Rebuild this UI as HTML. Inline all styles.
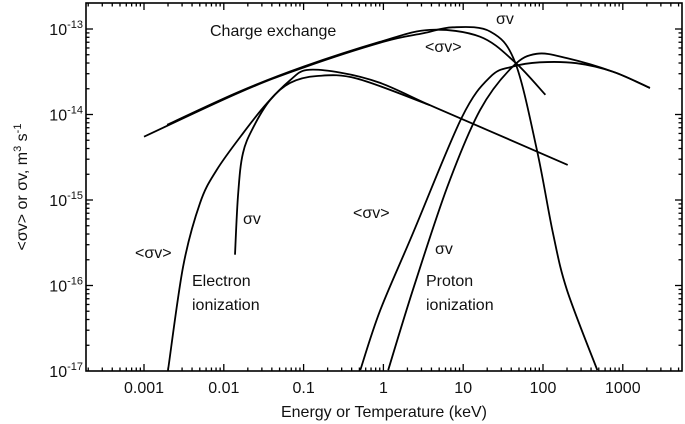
<!DOCTYPE html>
<html><head><meta charset="utf-8"><style>
html,body{margin:0;padding:0;background:#fff;}
svg{display:block;font-family:"Liberation Sans",sans-serif;}
</style></head><body>
<svg id="c" width="685" height="424" viewBox="0 0 685 424">
<rect x="86" y="3" width="596" height="368" fill="none" stroke="#000" stroke-width="1.6"/>
<g id="ticks"></g>
<g id="curves"></g>
<g font-size="16" fill="#111">
<text x="210" y="36">Charge exchange</text>
<text x="496" y="24">σv</text>
<text x="425" y="52">&lt;σv&gt;</text>
<text x="243" y="224">σv</text>
<text x="135" y="258">&lt;σv&gt;</text>
<text x="192" y="286">Electron</text>
<text x="192" y="310">ionization</text>
<text x="353" y="218">&lt;σv&gt;</text>
<text x="435" y="254">σv</text>
<text x="426" y="286">Proton</text>
<text x="426" y="310">ionization</text>
<text x="384" y="417" text-anchor="middle">Energy or Temperature (keV)</text>
<text transform="translate(27,187) rotate(-90)" text-anchor="middle">&lt;σv&gt; or σv, m<tspan font-size="11" dy="-6">3</tspan><tspan dy="6"> s</tspan><tspan font-size="11" dy="-6">-1</tspan></text>
</g>
<g id="labels" font-size="16" fill="#111"></g>
</svg>
<script>
// log10(E/keV) and log10(rate)
const xTickExps = [-3,-2,-1,0,1,2,3];
const xTickLabels = ["0.001","0.01","0.1","1","10","100","1000"];
const yTickExps = [-13,-14,-15,-16,-17];
const cxSigmaX = [-3,-1.8,-1,0,0.5,0.87,1.34,1.65,1.925,2.125,2.30,2.68];
const cxSigmaY = [-14.26,-13.74,-13.45,-13.15,-13.05,-12.98,-13.03,-13.39,-14.42,-15.39,-16.05,-16.99];
const cxMeanX = [-2.71,-1.8,-1,-0.04,0.58,1.21,1.65,2.03];
const cxMeanY = [-14.12,-13.73,-13.44,-13.15,-13.01,-13.09,-13.39,-13.77];
const elMeanX = [-2.70,-2.51,-2.30,-2.09,-1.76,-1.46,-1.17,-0.96,-0.54,-0.04,0.58,1.3,2.31];
const elMeanY = [-17.0,-15.78,-15.04,-14.65,-14.22,-13.87,-13.60,-13.48,-13.51,-13.63,-13.89,-14.18,-14.59];
const elSigmaX = [-1.86,-1.82,-1.76,-1.63,-1.42,-1.17,-0.83,-0.33,0.58];
const elSigmaY = [-15.64,-14.92,-14.45,-14.15,-13.83,-13.63,-13.55,-13.58,-13.89];
const prMeanX = [-0.29,-0.04,0.37,0.98,1.34,1.62,1.96,2.42,2.88,3.34];
const prMeanY = [-16.99,-16.29,-15.39,-14.04,-13.56,-13.44,-13.39,-13.40,-13.50,-13.69];
const prSigmaX = [0.06,0.37,0.80,1.21,1.62,1.92,2.30,2.88,3.34];
const prSigmaY = [-16.99,-16.05,-14.85,-13.95,-13.44,-13.29,-13.34,-13.50,-13.69];

const X0=86,X1=682,Y0=3,Y1=371;
const sx = lx => 144 + (lx+3)*79.8;
const sy = ly => 29 + (-13-ly)*85.5;
const NS="http://www.w3.org/2000/svg";
const tg=document.getElementById('ticks'), cg=document.getElementById('curves'), lg=document.getElementById('labels');
function line(x1,y1,x2,y2,nm){const l=document.createElementNS(NS,'line');
l.setAttribute('x1',x1);l.setAttribute('y1',y1);l.setAttribute('x2',x2);l.setAttribute('y2',y2);
l.setAttribute('stroke','#000');l.setAttribute('stroke-width','1.3');


tg.appendChild(l);}
for(let d=-4; d<=3; d++){for(let m=1;m<=9;m++){const x=sx(d+Math.log10(m));if(x<X0+1||x>X1-1)continue;
const len=m===1?7:3.5; line(x,Y1,x,Y1-len,'x-tick'); line(x,Y0,x,Y0+len,'x-tick-top');}}
for(let d=-18; d<=-13; d++){for(let m=1;m<=9;m++){const y=sy(d+Math.log10(m));if(y<Y0+1||y>Y1-1)continue;
const len=m===1?7:3.5; line(X0,y,X0+len,y,'y-tick'); line(X1,y,X1-len,y,'y-tick-right');}}
xTickExps.forEach((e,i)=>{const t=document.createElementNS(NS,'text');
t.setAttribute('x',sx(e));t.setAttribute('y',393);t.setAttribute('text-anchor','middle');t.textContent=xTickLabels[i];


lg.appendChild(t);});
yTickExps.forEach(e=>{const t=document.createElementNS(NS,'text');
t.setAttribute('x',83);t.setAttribute('y',sy(e)+6);t.setAttribute('text-anchor','end');
t.innerHTML='10<tspan font-size="11" dy="-7">'+e+'</tspan>';


lg.appendChild(t);});
function curve(xs,ys,nm){
const p=xs.map((x,i)=>[sx(x),sy(ys[i])]);
let d='M'+p[0][0].toFixed(1)+','+p[0][1].toFixed(1);
for(let i=0;i<p.length-1;i++){const p0=p[Math.max(0,i-1)],p1=p[i],p2=p[i+1],p3=p[Math.min(p.length-1,i+2)];
const c1=[p1[0]+(p2[0]-p0[0])/6,p1[1]+(p2[1]-p0[1])/6],c2=[p2[0]-(p3[0]-p1[0])/6,p2[1]-(p3[1]-p1[1])/6];
d+=' C'+c1[0].toFixed(1)+','+c1[1].toFixed(1)+' '+c2[0].toFixed(1)+','+c2[1].toFixed(1)+' '+p2[0].toFixed(1)+','+p2[1].toFixed(1);}
const e=document.createElementNS(NS,'path');e.setAttribute('d',d);e.setAttribute('fill','none');
e.setAttribute('stroke','#000');e.setAttribute('stroke-width','1.8');


cg.appendChild(e);}
curve(cxSigmaX,cxSigmaY,'charge-exchange-sigma-v');
curve(cxMeanX,cxMeanY,'charge-exchange-mean-sigma-v');
curve(elMeanX,elMeanY,'electron-ionization-mean-sigma-v');
curve(elSigmaX,elSigmaY,'electron-ionization-sigma-v');
curve(prMeanX,prMeanY,'proton-ionization-mean-sigma-v');
curve(prSigmaX,prSigmaY,'proton-ionization-sigma-v');
</script>
</body></html>
